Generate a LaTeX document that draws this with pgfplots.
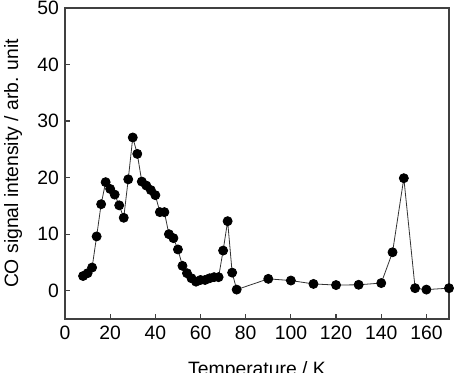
\documentclass[border=0pt]{standalone}
\usepackage{pgfplots}
\pgfplotsset{compat=1.18}
\usepackage{fontspec}
\setmainfont{Liberation Sans}
\begin{document}
\begin{tikzpicture}
\begin{axis}[
  name=ax,
  scale only axis,
  width=288pt, height=233.25pt,
  xmin=0, xmax=170, ymin=-5, ymax=50,
  xtick={0,20,...,160}, ytick={0,10,...,50},
  tick align=inside,
  xtick pos=bottom, ytick pos=left,
  major tick length=4pt,
  axis line style={draw=black!75, line width=0.9pt},
  tick style={draw=black!75, line width=0.9pt},
  /pgf/number format/assume math mode=true,
  tick label style={font=\fontsize{14.5}{17}\selectfont},
  xticklabel style={yshift=-2pt},
  yticklabel style={xshift=-1pt},
  xlabel={Temperature / K},
  ylabel={CO signal intensity / arb. unit},
  every axis x label/.style={at={([yshift=-32pt]axis description cs:0.5,0)}, anchor=north, inner sep=0pt, font=\fontsize{14.5}{17}\selectfont},
  every axis y label/.style={at={([xshift=-32pt]axis description cs:0,0.5)}, anchor=south, rotate=90, inner sep=0pt, font=\fontsize{14.5}{17}\selectfont},
]
\addplot[black!80, line width=0.6pt, mark=*, mark size=3.4pt, mark options={fill=black, draw=black}] coordinates {
(8,2.6) (10,3.1) (12,4.1) (14,9.6) (16,15.3) (18,19.2) (20,18) (22,17) (24,15.1)
(26,12.9) (28,19.7) (30,27.1) (32,24.2) (34,19.3) (36,18.6) (38,17.8) (40,16.9)
(42,13.9) (44,13.9) (46,10) (48,9.3) (50,7.3) (52,4.4) (54,3.1) (56,2.2) (58,1.6)
(60,1.9) (62,1.9) (64,2.2) (66,2.4) (68,2.4) (70,7.1) (72,12.3) (74,3.2) (76,0.2)
(90,2.1) (100,1.8) (110,1.2) (120,1.0) (130,1.05) (140,1.35) (145,6.8) (150,19.9)
(155,0.45) (160,0.2) (170,0.45)
};
\end{axis}
\pgfresetboundingbox
\path[use as bounding box] ([xshift=-48.75pt,yshift=-40.5pt]ax.south west) rectangle ([xshift=3.75pt,yshift=6pt]ax.north east);
\end{tikzpicture}
\end{document}
